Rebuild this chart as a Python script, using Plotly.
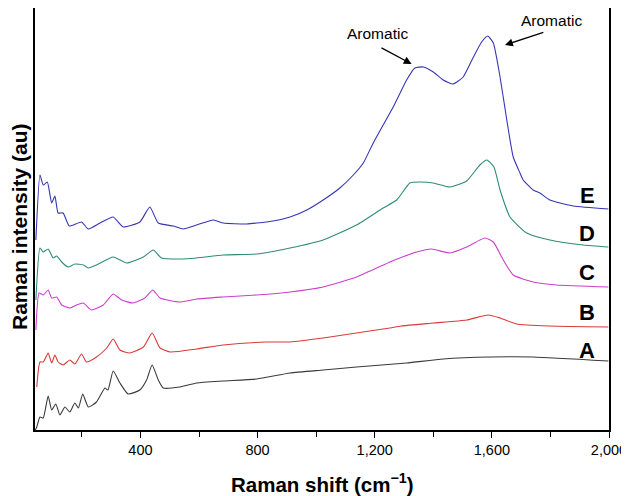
import plotly.graph_objects as go

# Raman spectra (wavenumber in cm-1, intensity in arbitrary units, stacked)
wn_E = [43, 57, 68, 82, 97, 108, 119, 136, 157, 199, 222, 262, 307, 341, 398, 432, 461, 512, 546, 592,
        649, 683, 763, 853, 911, 968, 1024, 1081, 1127, 1161, 1195, 1263, 1309, 1337, 1366, 1400, 1434,
        1468, 1502, 1537, 1565, 1586, 1605, 1628, 1651, 1673, 1696, 1707, 1741, 1764, 1798, 1878, 1998]
int_E = [190, 255, 245, 248, 227, 234, 217, 217, 204, 208, 201, 207, 213, 203, 208, 223, 207, 204, 201, 205,
         210, 207, 206, 209, 213, 220, 230, 242, 255, 267, 287, 323, 350, 362, 363, 358, 350,
         346, 353, 373, 388, 394, 387, 353, 310, 273, 257, 250, 240, 237, 230, 224, 221]

wn_D = [43, 57, 68, 85, 102, 114, 131, 153, 176, 205, 222, 250, 307, 353, 410, 444, 472, 535, 592, 683,
        797, 911, 1024, 1138, 1229, 1275, 1320, 1355, 1400, 1457, 1514, 1559, 1583, 1607, 1628, 1662,
        1719, 1798, 1912, 1998]
int_D = [130, 182, 178, 181, 172, 174, 168, 163, 166, 165, 162, 165, 173, 167, 173, 180, 172, 171, 172, 175,
         176, 182, 190, 205, 222, 230, 247, 248, 247, 243, 249, 265, 270, 263, 240, 213,
         197, 190, 185, 183]

wn_C = [43, 54, 68, 85, 97, 114, 131, 159, 182, 205, 233, 273, 307, 336, 375, 415, 442, 467, 535, 592,
        683, 797, 911, 1024, 1138, 1252, 1286, 1343, 1394, 1457, 1514, 1576, 1605, 1639, 1673, 1741,
        1821, 1998]
int_C = [100, 137, 135, 140, 132, 133, 125, 122, 125, 127, 120, 125, 136, 130, 127, 132, 140, 132, 128, 131,
         133, 135, 138, 143, 153, 168, 172, 178, 181, 177, 183, 192, 188, 170, 155, 148,
         145, 143]

wn_B = [46, 57, 68, 85, 97, 108, 119, 136, 159, 176, 199, 216, 250, 285, 307, 330, 364, 410, 440, 467,
        501, 592, 683, 831, 911, 1024, 1138, 1252, 1290, 1400, 1514, 1588, 1628, 1685, 1798, 1998]
int_B = [43, 68, 68, 77, 67, 75, 68, 65, 70, 66, 76, 68, 73, 82, 91, 80, 77, 83, 97, 82,
         78, 81, 85, 88, 88, 92, 97, 102, 104, 107, 110, 115, 112, 106, 104, 103]

wn_A = [41, 46, 57, 68, 85, 97, 111, 125, 142, 159, 176, 188, 203, 222, 250, 279, 289, 307, 330, 358,
        398, 421, 440, 461, 478, 535, 592, 683, 797, 911, 1024, 1138, 1309, 1434, 1594, 1741, 1998]
int_A = [0, 3, 13, 12, 34, 20, 26, 15, 23, 18, 27, 22, 36, 23, 28, 42, 40, 59, 47, 36,
         40, 50, 65, 50, 42, 43, 47, 49, 51, 57, 60, 63, 67, 71, 73, 73, 69]

series_names = ["A", "B", "C", "D", "E"]
series_colors = ["#3a3a3a", "#d93a3a", "#cc3fcc", "#2e8a78", "#3535b5"]
label_y = [80, 118, 158, 197, 235]

x_tickvals = [400, 800, 1200, 1600, 2000]
x_ticktext = ["400", "800", "1,200", "1,600", "2,000"]
x_minor = [200, 600, 1000, 1400, 1800]

data = [(wn_A, int_A), (wn_B, int_B), (wn_C, int_C), (wn_D, int_D), (wn_E, int_E)]

FONT = "Liberation Sans"

fig = go.Figure()
for (wx, wy), name, col in zip(data, series_names, series_colors):
    fig.add_trace(go.Scatter(x=wx, y=wy, mode="lines", name=name,
                             line=dict(color=col, width=1.1, shape="spline", smoothing=0.5),
                             showlegend=False))

for name, ly in zip(series_names, label_y):
    fig.add_annotation(x=1960, y=ly, text="<b>%s</b>" % name, showarrow=False,
                       xanchor="right", yanchor="middle",
                       font=dict(size=22, color="black", family=FONT))

# Aromatic annotations
fig.add_annotation(x=1326, y=366, ax=1218, ay=383, axref="x", ayref="y", xref="x", yref="y",
                   text="", showarrow=True, arrowhead=2, arrowsize=1.2, arrowwidth=1.3, arrowcolor="black")
fig.add_annotation(x=1211, y=397, text="Aromatic", showarrow=False,
                   font=dict(size=15.5, color="black", family=FONT))
fig.add_annotation(x=1645, y=385, ax=1781, ay=398, axref="x", ayref="y", xref="x", yref="y",
                   text="", showarrow=True, arrowhead=2, arrowsize=1.2, arrowwidth=1.3, arrowcolor="black")
fig.add_annotation(x=1802, y=410, text="Aromatic", showarrow=False,
                   font=dict(size=15.5, color="black", family=FONT))

# Axis titles
fig.add_annotation(xref="paper", yref="paper", x=0.5, y=0, yshift=-53, showarrow=False,
                   text="<b>Raman shift (cm<sup>−1</sup>)</b>", xanchor="center", yanchor="middle",
                   font=dict(size=20.5, color="black", family=FONT))
fig.add_annotation(xref="paper", yref="paper", x=0, y=0.481, xshift=-16, showarrow=False,
                   text="<b>Raman intensity (au)</b>", textangle=-90, xanchor="center", yanchor="middle",
                   font=dict(size=21, color="black", family=FONT))

fig.update_layout(
    width=621, height=488,
    margin=dict(l=27, r=20, t=0, b=66),
    paper_bgcolor="white", plot_bgcolor="white",
    font=dict(family=FONT, color="black"),
    xaxis=dict(range=[40, 2000], tickvals=x_tickvals, ticktext=x_ticktext,
               ticks="outside", ticklen=6, tickwidth=1.3, tickcolor="black",
               minor=dict(tickvals=x_minor, ticks="outside", ticklen=5, tickwidth=1.3, tickcolor="black"),
               showline=True, linewidth=1.5, linecolor="black", mirror=True,
               showgrid=False, zeroline=False, tickfont=dict(size=14.5), automargin=False),
    yaxis=dict(range=[0, 422], showticklabels=False, ticks="",
               showline=True, linewidth=1.5, linecolor="black", mirror=True,
               showgrid=False, zeroline=False, automargin=False),
)

fig.write_html("out.html")
